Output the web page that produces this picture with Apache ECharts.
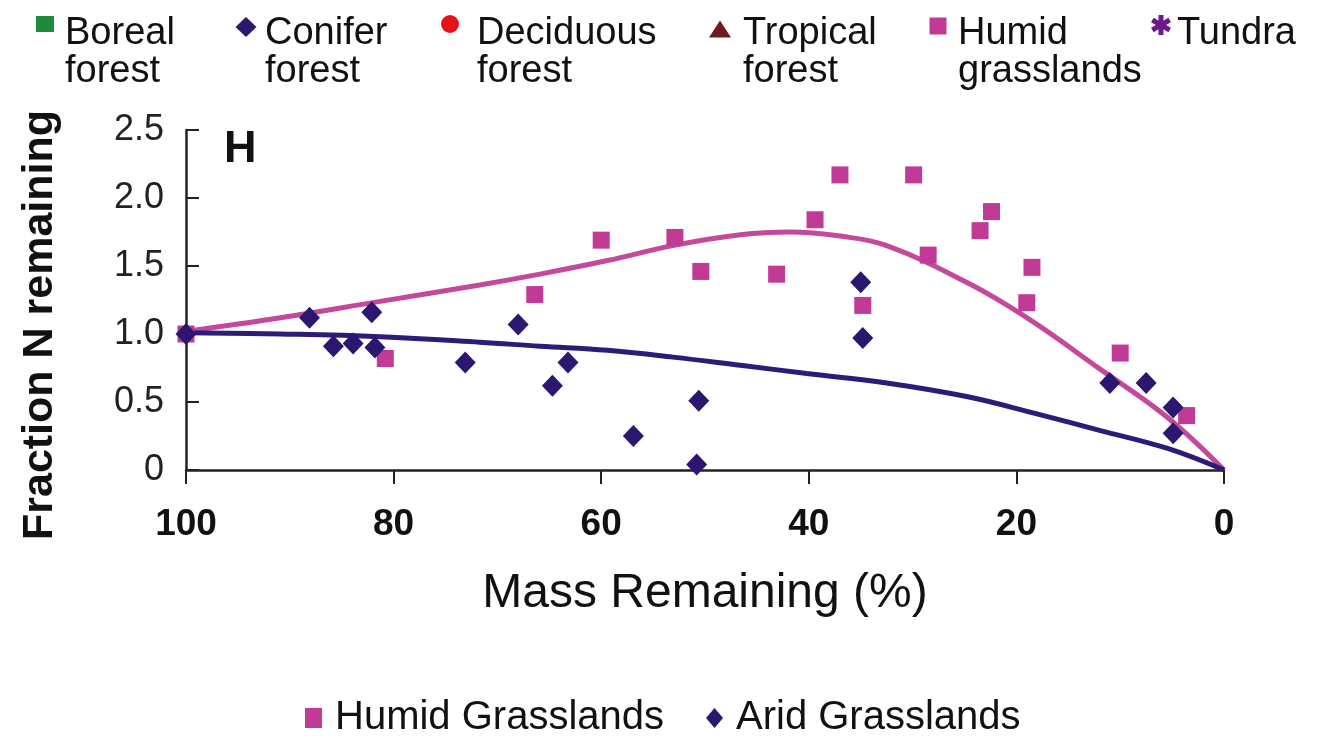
<!DOCTYPE html>
<html>
<head>
<meta charset="utf-8">
<script src="https://cdn.jsdelivr.net/npm/echarts@6/dist/echarts.min.js"></script>
<style>
  html, body { margin: 0; padding: 0; background: #ffffff; }
  #chart { width: 1318px; height: 747px; }
</style>
</head>
<body>
<div id="chart"></div>
<script>
// Fraction of initial N remaining vs. mass remaining, grassland litter (panel H)
const humidPoints = [
  [100, 1.00], [80.8, 0.82], [66.4, 1.29], [60.0, 1.69], [52.9, 1.71],
  [50.4, 1.46], [43.1, 1.44], [39.4, 1.84], [37.0, 2.17], [34.8, 1.21],
  [29.9, 2.17], [28.5, 1.58], [23.5, 1.76], [22.4, 1.90], [18.5, 1.49],
  [19.0, 1.23], [10.0, 0.86], [3.6, 0.40]
];
const aridPoints = [
  [100, 1.00], [88.1, 1.12], [82.1, 1.16], [85.8, 0.91], [83.9, 0.93],
  [81.8, 0.90], [73.1, 0.79], [68.0, 1.07], [63.2, 0.79], [64.7, 0.62],
  [56.9, 0.25], [50.6, 0.51], [50.8, 0.04], [35.0, 1.38], [34.8, 0.97],
  [11.0, 0.64], [7.5, 0.64], [4.9, 0.46], [4.9, 0.27]
];
// Fitted trend curves
const humidFit = [
  [100, 1.02], [90.9, 1.12], [81.3, 1.24], [71.7, 1.36], [65.9, 1.44],
  [59.4, 1.54], [53.1, 1.65], [46.6, 1.73], [41.8, 1.75], [37.0, 1.72],
  [32.5, 1.65], [24.8, 1.38], [19.0, 1.12], [11.9, 0.74],
  [5.5, 0.39], [0, 0]
];
const aridFit = [
  [100, 1.01], [90.9, 1.00], [81.3, 0.98], [71.7, 0.94], [65.9, 0.91],
  [59.4, 0.88], [53.1, 0.83], [46.6, 0.77], [40.2, 0.71], [32.5, 0.64],
  [24.8, 0.54], [18.4, 0.42], [11.9, 0.29], [5.5, 0.16],
  [0, 0]
];
const yTickLabels = ['0', '0.5', '1.0', '1.5', '2.0', '2.5'];
const biomeLegend = [
  { name: 'Boreal\nforest', symbol: 'rect', color: '#1d8a3c' },
  { name: 'Conifer\nforest', symbol: 'diamond', color: '#2b1670' },
  { name: 'Deciduous\nforest', symbol: 'circle', color: '#e5121c' },
  { name: 'Tropical\nforest', symbol: 'triangle', color: '#6e1a22' },
  { name: 'Humid\ngrasslands', symbol: 'rect', color: '#c13b96' },
  { name: 'Tundra', symbol: 'asterisk', color: '#6a1a8a' }
];

const FONT = 'Liberation Sans, Arial, Helvetica, sans-serif';
const PINK = '#c13b96';
const NAVY = '#2b1670';

// Layout of the biome key along the top
const keyIcons = [
  { x: 45, y: 24, w: 18, h: 16 },
  { x: 246, y: 27, w: 21, h: 20 },
  { x: 450, y: 24, w: 18, h: 18 },
  { x: 720, y: 29, w: 22, h: 17 },
  { x: 938, y: 26, w: 17, h: 17 },
  { x: 1161, y: 25, w: 20, h: 20 }
];
const keyTextX = [65, 265, 477, 743, 958, 1177];

const graphics = [];
biomeLegend.forEach((b, i) => {
  const ic = keyIcons[i];
  if (b.symbol === 'rect') {
    graphics.push({ type: 'rect', shape: { x: ic.x - ic.w / 2, y: ic.y - ic.h / 2, width: ic.w, height: ic.h }, style: { fill: b.color } });
  } else if (b.symbol === 'circle') {
    graphics.push({ type: 'circle', shape: { cx: ic.x, cy: ic.y, r: ic.w / 2 }, style: { fill: b.color } });
  } else if (b.symbol === 'diamond') {
    graphics.push({ type: 'polygon', shape: { points: [[ic.x, ic.y - ic.h / 2], [ic.x + ic.w / 2, ic.y], [ic.x, ic.y + ic.h / 2], [ic.x - ic.w / 2, ic.y]] }, style: { fill: b.color } });
  } else if (b.symbol === 'triangle') {
    graphics.push({ type: 'polygon', shape: { points: [[ic.x, ic.y - ic.h / 2], [ic.x + ic.w / 2, ic.y + ic.h / 2], [ic.x - ic.w / 2, ic.y + ic.h / 2]] }, style: { fill: b.color } });
  } else if (b.symbol === 'asterisk') {
    const r = ic.w / 2;
    for (let k = 0; k < 3; k++) {
      const a = Math.PI / 2 + k * Math.PI / 3;
      graphics.push({ type: 'line', shape: { x1: ic.x - r * Math.cos(a), y1: ic.y - r * Math.sin(a), x2: ic.x + r * Math.cos(a), y2: ic.y + r * Math.sin(a) }, style: { stroke: b.color, lineWidth: 5 } });
    }
  }
  graphics.push({
    type: 'text', left: keyTextX[i], top: 15,
    style: { text: b.name, font: '38px ' + FONT, lineHeight: 38, fill: '#111', textAlign: 'left' }
  });
});
// Panel letter
graphics.push({ type: 'text', left: 224, top: 127, style: { text: 'H', font: 'bold 45px ' + FONT, fill: '#111' } });
// Vertical axis title
graphics.push({
  type: 'text', x: 40, y: 325, rotation: Math.PI / 2,
  style: { text: 'Fraction N remaining', font: 'bold 43px ' + FONT, fill: '#111', textAlign: 'center', textVerticalAlign: 'middle', verticalAlign: 'middle' }
});

const chart = echarts.init(document.getElementById('chart'), null, { renderer: 'canvas' });
chart.setOption({
  backgroundColor: '#ffffff',
  animation: false,
  graphic: graphics,
  grid: { left: 186, right: 94, top: 130, bottom: 277, containLabel: false },
  legend: {
    data: ['Humid Grasslands', 'Arid Grasslands'],
    bottom: 4, left: 300,
    itemWidth: 17, itemHeight: 20, itemGap: 42,
    textStyle: { fontFamily: FONT, fontSize: 40, color: '#111', padding: [0, 0, 0, 8] }
  },
  xAxis: {
    type: 'value', min: 0, max: 100, interval: 20, inverse: true,
    name: 'Mass Remaining (%)', nameLocation: 'middle', nameGap: 100,
    nameTextStyle: { fontFamily: FONT, fontSize: 48, color: '#111' },
    axisLine: { lineStyle: { color: '#222', width: 2.5 } },
    axisTick: { show: true, inside: false, length: 14, lineStyle: { color: '#222', width: 2 } },
    axisLabel: { fontFamily: FONT, fontSize: 37, fontWeight: 'bold', color: '#111', margin: 36 },
    splitLine: { show: false }
  },
  yAxis: {
    type: 'value', min: 0, max: 2.5, interval: 0.5, position: 'left',
    axisLine: { show: true, onZero: false, lineStyle: { color: '#222', width: 2.5 } },
    axisTick: { show: true, inside: true, length: 13, lineStyle: { color: '#222', width: 2 } },
    axisLabel: {
      fontFamily: FONT, fontSize: 36, color: '#222', margin: 22,
      formatter: (v) => yTickLabels[Math.round(v / 0.5)]
    },
    splitLine: { show: false }
  },
  series: [
    {
      name: 'Humid fit', type: 'line', data: humidFit, smooth: 0.4, showSymbol: false,
      lineStyle: { color: '#c4489c', width: 5 }, z: 1, silent: true
    },
    {
      name: 'Arid fit', type: 'line', data: aridFit, smooth: 0.4, showSymbol: false,
      lineStyle: { color: '#2e1a78', width: 5 }, z: 1, silent: true
    },
    {
      name: 'Humid Grasslands', type: 'scatter', data: humidPoints,
      symbol: 'rect', symbolSize: [17, 17], itemStyle: { color: PINK, opacity: 1 }, z: 3
    },
    {
      name: 'Arid Grasslands', type: 'scatter', data: aridPoints,
      symbol: 'diamond', symbolSize: [21, 22], itemStyle: { color: NAVY, opacity: 1 }, z: 4
    }
  ]
});
</script>
</body>
</html>
